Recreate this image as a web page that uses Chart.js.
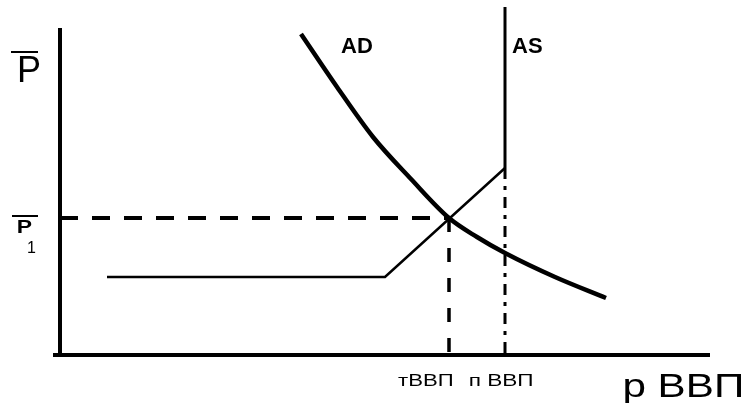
<!DOCTYPE html>
<html>
<head>
<meta charset="utf-8">
<script src="https://cdn.jsdelivr.net/npm/chart.js@4/dist/chart.umd.min.js"></script>
<style>
html,body{margin:0;padding:0;background:#fff;}
canvas{display:block;}
</style>
</head>
<body>
<canvas id="c" width="746" height="403"></canvas>
<script>
const adX = [241, 277, 313, 351, 389, 417, 445, 495, 546];
const adY = [321, 268, 218, 176, 137, 118, 102, 78, 57];
const asLowX = [47, 325, 445];
const asLowY = [78, 78, 187];
const asVertX = [445, 445];
const asVertY = [187, 348];
const yAxisX = [0, 0];
const yAxisY = [-2, 327];
const xAxisX = [-7, 650];
const xAxisY = [0, 0];
const p1LineX = [0, 389];
const p1LineY = [137, 137];
const tLineX = [389, 389];
const tLineY = [137, 0];
const nLineX = [445, 445];
const nLineY = [187, 0];

// labels
const labelTexts = ["AD", "AS", "P", "P", "1", "тВВП", "п ВВП", "р ВВП"];
const labelX = [281, 452, -43, -42, -33, 338, 410, 565];
const labelY = [302, 302, 273, 122, 102, -31, -31, -42];
const labelFonts = ["bold 22px 'Liberation Sans'", "bold 22px 'Liberation Sans'", "36px 'Liberation Sans'",
  "bold 18px 'Liberation Sans'", "16px 'Liberation Sans'", "17px 'Liberation Sans'", "17px 'Liberation Sans'", "33px 'Liberation Sans'"];
const labelInkWidth = [null, null, null, 14, null, 54, 62, 117];
// overlines (bar over P)
const barX1 = [-49, -48];
const barX2 = [-22, -22];
const barY = [303, 139];

function pts(xs, ys) { return xs.map((x, i) => ({x: x, y: ys[i]})); }

function ds(xs, ys, w, dash, smooth) {
  return {
    data: pts(xs, ys),
    showLine: true,
    borderColor: '#000',
    backgroundColor: '#000',
    borderWidth: w,
    borderDash: dash || [],
    pointRadius: 0,
    pointHoverRadius: 0,
    tension: smooth ? 0.4 : 0,
    cubicInterpolationMode: smooth ? 'monotone' : 'default',
    fill: false,
    clip: false,
    borderCapStyle: 'butt'
  };
}

const labelPlugin = {
  id: 'labels',
  afterDatasetsDraw(chart) {
    const ctx = chart.ctx;
    const xs = chart.scales.x, ys = chart.scales.y;
    ctx.save();
    ctx.fillStyle = '#000';
    ctx.textBaseline = 'alphabetic';
    ctx.textAlign = 'left';
    labelTexts.forEach((t, i) => {
      ctx.font = labelFonts[i];
      const px = xs.getPixelForValue(labelX[i]);
      const py = ys.getPixelForValue(labelY[i]);
      const target = labelInkWidth[i];
      if (target) {
        const m = ctx.measureText(t);
        const ink = m.actualBoundingBoxLeft + m.actualBoundingBoxRight;
        const sx = target / ink;
        ctx.save();
        ctx.translate(px, py);
        ctx.scale(sx, 1);
        ctx.fillText(t, m.actualBoundingBoxLeft, 0);
        ctx.restore();
      } else {
        ctx.fillText(t, px, py);
      }
    });
    ctx.strokeStyle = '#000';
    ctx.lineWidth = 2;
    barY.forEach((y, i) => {
      const py = Math.round(ys.getPixelForValue(y));
      ctx.beginPath();
      ctx.moveTo(xs.getPixelForValue(barX1[i]), py);
      ctx.lineTo(xs.getPixelForValue(barX2[i]), py);
      ctx.stroke();
    });
    ctx.restore();
  }
};

new Chart(document.getElementById('c'), {
  type: 'scatter',
  data: {
    datasets: [
      ds(yAxisX, yAxisY, 4),
      ds(xAxisX, xAxisY, 4),
      ds(p1LineX, p1LineY, 4, [18, 14]),
      ds(tLineX, tLineY, 3.5, [14, 16]),
      ds(nLineX, nLineY, 3, [11, 7, 4, 7]),
      ds(asLowX, asLowY, 2.5),
      ds(asVertX, asVertY, 3),
      ds(adX, adY, 4.5, null, true)
    ]
  },
  options: {
    responsive: false,
    animation: false,
    events: [],
    layout: { padding: { left: 60, right: 36, top: 7, bottom: 48 } },
    plugins: { legend: { display: false }, tooltip: { enabled: false }, title: { display: false } },
    scales: {
      x: { type: 'linear', min: 0, max: 650, display: false },
      y: { type: 'linear', min: 0, max: 348, display: false }
    }
  },
  plugins: [labelPlugin]
});
</script>
</body>
</html>
